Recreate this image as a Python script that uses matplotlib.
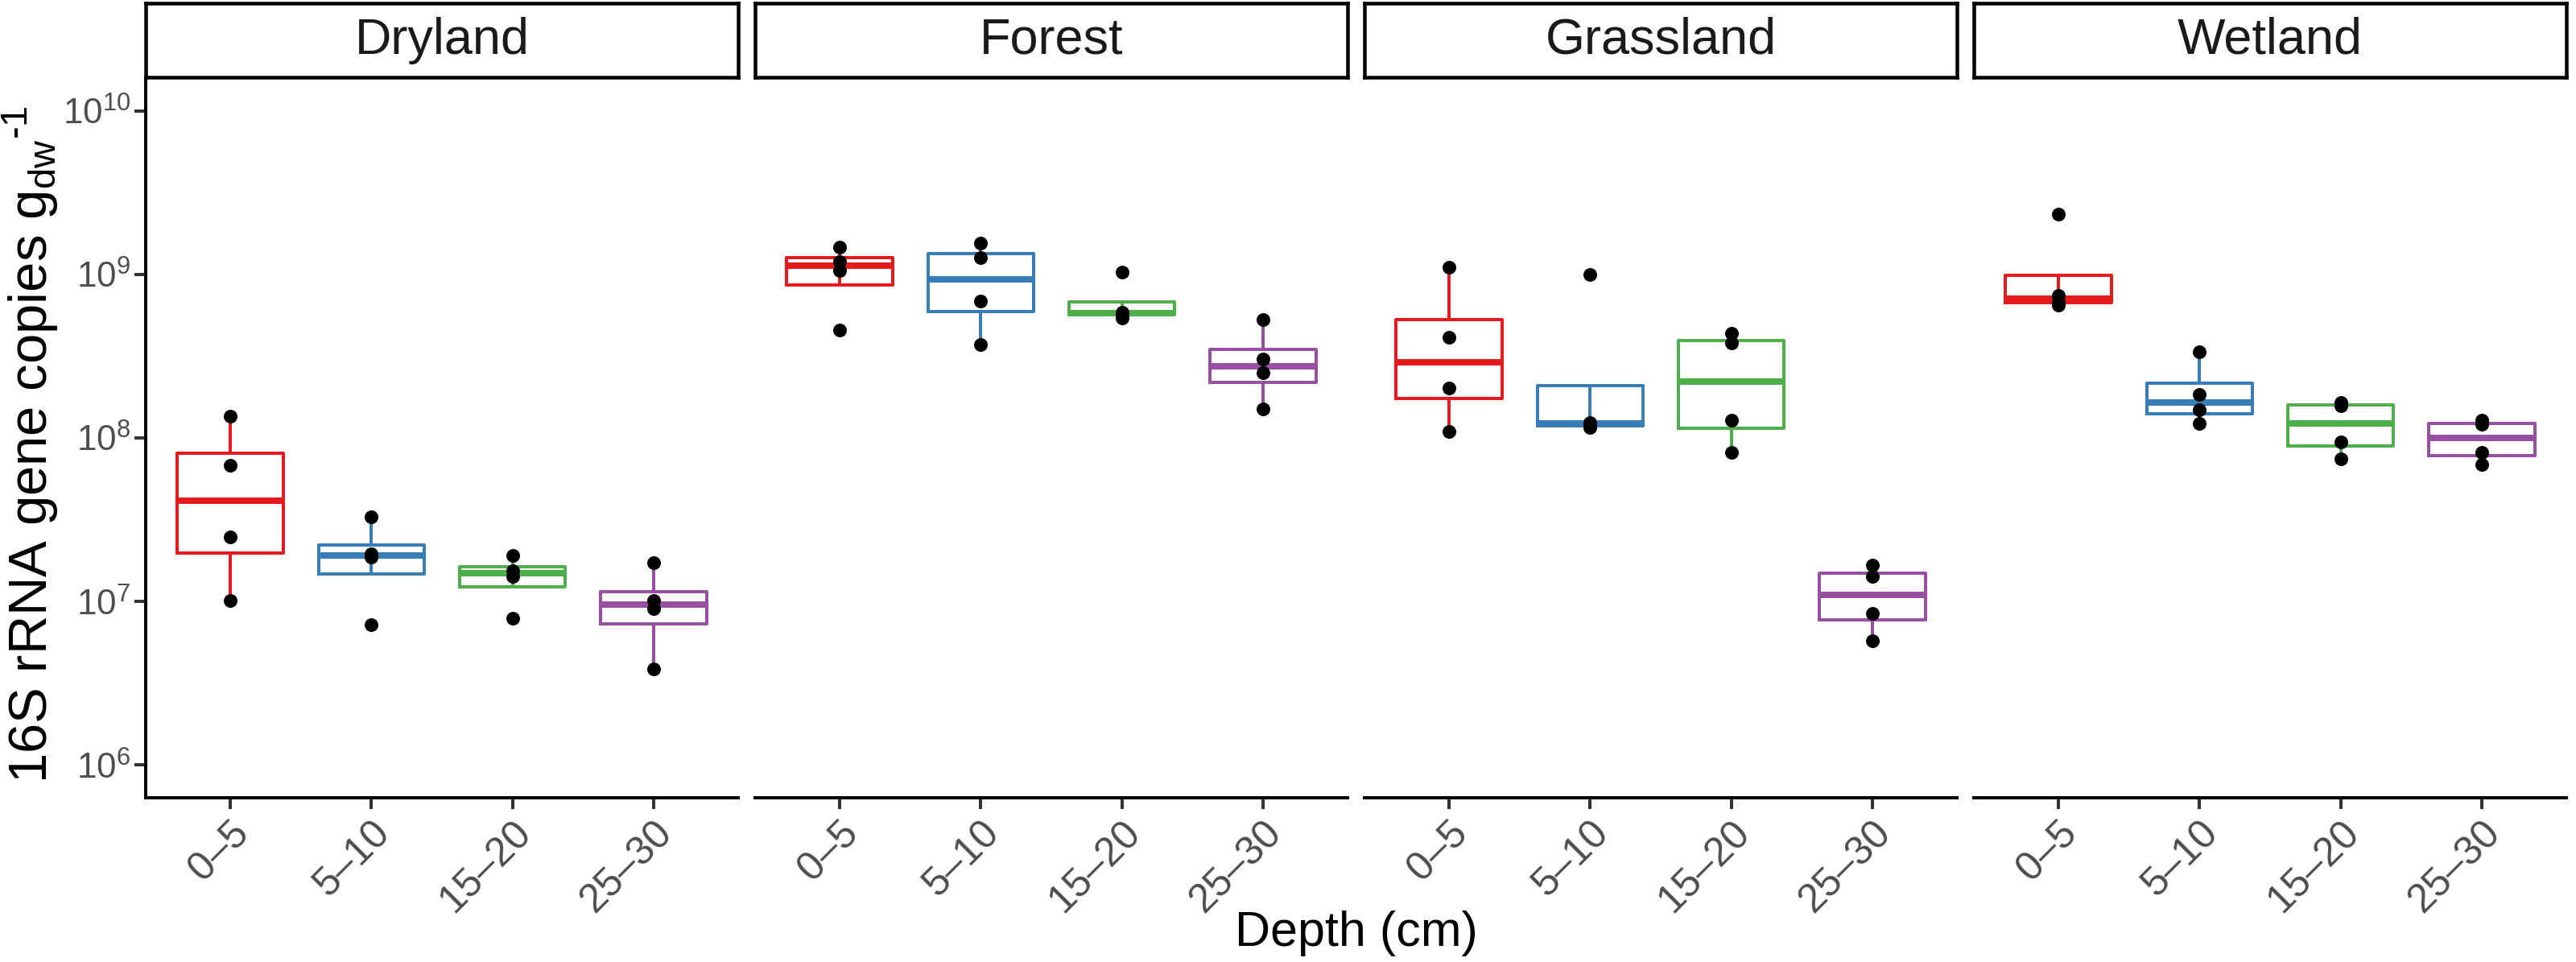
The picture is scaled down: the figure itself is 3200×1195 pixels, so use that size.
import numpy as np
import matplotlib
matplotlib.use("Agg")
import matplotlib.pyplot as plt
from matplotlib.ticker import FixedLocator, NullLocator, LogFormatterSciNotation

plt.rcParams['font.family'] = ['Liberation Sans', 'DejaVu Sans']
plt.rcParams['mathtext.fontset'] = 'custom'
plt.rcParams['mathtext.rm'] = 'Liberation Sans'
plt.rcParams['mathtext.it'] = 'Liberation Sans:italic'
plt.rcParams['mathtext.default'] = 'regular'

# ---------------- data ----------------
ecosystems = ["Dryland", "Forest", "Grassland", "Wetland"]
depths = ["0\u20135", "5\u201310", "15\u201320", "25\u201330"]
colors = ["#E41A1C", "#377EB8", "#4DAF4A", "#984EA3"]

dryland = [
    [1.36e8, 6.82e7, 2.48e7, 1.01e7],
    [3.30e7, 1.95e7, 1.86e7, 7.2e6],
    [1.92e7, 1.55e7, 1.43e7, 7.9e6],
    [1.72e7, 1.01e7, 9.06e6, 3.85e6],
]
forest = [
    [1.46e9, 1.20e9, 1.06e9, 4.57e8],
    [1.56e9, 1.27e9, 6.90e8, 3.71e8],
    [1.03e9, 5.89e8, 5.75e8, 5.43e8],
    [5.27e8, 3.05e8, 2.49e8, 1.50e8],
]
grassland = [
    [1.10e9, 4.14e8, 2.02e8, 1.10e8],
    [9.95e8, 1.24e8, 1.20e8, 1.16e8],
    [4.34e8, 3.83e8, 1.29e8, 8.18e7],
    [1.66e7, 1.43e7, 8.47e6, 5.77e6],
]
wetland = [
    [2.34e9, 7.41e8, 6.76e8, 6.46e8],
    [3.37e8, 1.85e8, 1.48e8, 1.22e8],
    [1.64e8, 1.58e8, 9.44e7, 7.43e7],
    [1.28e8, 1.21e8, 8.18e7, 6.87e7],
]
all_data = [dryland, forest, grassland, wetland]
ytick_values = [1e6, 1e7, 1e8, 1e9, 1e10]

ylabel = "16S rRNA gene copies g$_{dw}$$^{\u2010 1}$"
xlabel = "Depth (cm)"

# ---------------- layout ----------------
W, H, DPI = 3200, 1195, 100
def pt(p):
    return p * 72.0 / DPI

fig = plt.figure(figsize=(W / DPI, H / DPI), dpi=DPI)
panel_left0, panel_w, panel_gap = 181, 736, 21
panel_top, panel_bottom = 97, 991
strip_top, strip_bottom = 4, 96


def box_stats(vals):
    lv = np.log10(np.asarray(vals, dtype=float))
    q1, med, q3 = np.percentile(lv, [25, 50, 75])
    iqr = q3 - q1
    lo = lv[lv >= q1 - 1.5 * iqr].min()
    hi = lv[lv <= q3 + 1.5 * iqr].max()
    return dict(med=10 ** med, q1=10 ** q1, q3=10 ** q3,
                whislo=10 ** lo, whishi=10 ** hi, fliers=[])


for i, (eco, data) in enumerate(zip(ecosystems, all_data)):
    left = panel_left0 + i * (panel_w + panel_gap)
    ax = fig.add_axes([left / W, (H - panel_bottom) / H, panel_w / W,
                       (panel_bottom - panel_top) / H])
    ax.set_yscale('log')
    ax.set_ylim(10 ** 5.8, 10 ** 10.2)
    ax.set_xlim(-0.6, len(depths) - 1 + 0.6)

    stats = [box_stats(v) for v in data]
    res = ax.bxp(stats, positions=range(len(depths)), widths=0.75,
                 showfliers=False, showcaps=False)
    for j, c in enumerate(colors):
        res['boxes'][j].set_color(c)
        res['boxes'][j].set_linewidth(pt(4))
        res['medians'][j].set_color(c)
        res['medians'][j].set_linewidth(pt(8))
        res['medians'][j].set_solid_capstyle('butt')
        for w in res['whiskers'][2 * j:2 * j + 2]:
            w.set_color(c)
            w.set_linewidth(pt(4))

    for j, vals in enumerate(data):
        ax.scatter([j] * len(vals), vals, s=pt(17) ** 2, color='black',
                   linewidths=0, zorder=4)

    for s in ['top', 'right']:
        ax.spines[s].set_visible(False)
    ax.spines['bottom'].set_linewidth(pt(4))
    ax.spines['left'].set_linewidth(pt(4))
    ax.spines['left'].set_visible(i == 0)

    ax.set_xticks(range(len(depths)))
    ax.set_xticklabels(depths, rotation=45, ha='right', va='top',
                       rotation_mode='anchor')
    ax.tick_params(axis='x', length=pt(14), width=pt(4), color='#333333',
                   labelsize=pt(50), labelcolor='#4D4D4D', pad=pt(6))
    ax.yaxis.set_minor_locator(NullLocator())
    if i == 0:
        ax.yaxis.set_major_locator(FixedLocator(ytick_values))
        ax.yaxis.set_major_formatter(LogFormatterSciNotation())
        ax.tick_params(axis='y', length=pt(14), width=pt(4), color='#333333',
                       labelsize=pt(44), labelcolor='#4D4D4D', pad=pt(5))
    else:
        ax.tick_params(axis='y', left=False, labelleft=False)
    ax.set_facecolor('white')

    sax = fig.add_axes([left / W, (H - strip_bottom) / H, panel_w / W,
                        (strip_bottom - strip_top) / H])
    sax.set_xticks([])
    sax.set_yticks([])
    for sp in sax.spines.values():
        sp.set_linewidth(pt(4.5))
        sp.set_color('black')
    sax.text(0.5, 0.5, eco, ha='center', va='center', fontsize=pt(63),
             color='#1A1A1A', transform=sax.transAxes)

fig.text(38 / W, 1 - 552 / H, ylabel, rotation=90, ha='center', va='center',
         fontsize=pt(67), color='black')
fig.text((panel_left0 + 3188) / 2 / W, 1 - 1160 / H, xlabel, ha='center',
         va='center', fontsize=pt(61), color='black')

fig.savefig("out.png", dpi=DPI, facecolor='white')
